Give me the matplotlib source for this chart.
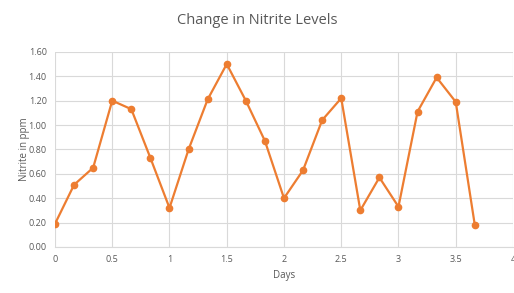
import matplotlib
matplotlib.use("Agg")
import matplotlib.pyplot as plt
import numpy as np

# readings every 4 hours
days = [0, 1/6, 2/6, 3/6, 4/6, 5/6, 1.0, 7/6, 8/6, 9/6, 10/6, 11/6, 2.0,
        13/6, 14/6, 15/6, 16/6, 17/6, 3.0, 19/6, 20/6, 21/6, 22/6]
nitrite = [0.19, 0.51, 0.65, 1.20, 1.13, 0.73, 0.32, 0.80, 1.21, 1.50, 1.20, 0.87, 0.40,
           0.63, 1.04, 1.22, 0.30, 0.57, 0.33, 1.11, 1.39, 1.19, 0.18]
x_ticks = [0, 0.5, 1, 1.5, 2, 2.5, 3, 3.5, 4]
x_labels = ["0", "0.5", "1", "1.5", "2", "2.5", "3", "3.5", "4"]
y_ticks = [0.0, 0.2, 0.4, 0.6, 0.8, 1.0, 1.2, 1.4, 1.6]

plt.rcParams['font.family'] = ['Open Sans', 'DejaVu Sans']
orange = '#ED7D31'
grey = '#595959'

fig = plt.figure(figsize=(5.14, 2.93), dpi=100)
ax = fig.add_axes([0.107, 0.157, 0.891, 0.666])

ax.plot(days, nitrite, color=orange, linewidth=1.6, marker='o', markersize=4.5, zorder=3)

ax.set_xlim(0, 4)
ax.set_ylim(0, 1.6)
ax.set_xticks(x_ticks)
ax.set_xticklabels(x_labels)
ax.set_yticks(y_ticks)
ax.set_yticklabels([f"{v:.2f}" for v in y_ticks])
ax.tick_params(axis='both', length=0, labelsize=6.5, colors=grey, pad=6)
ax.grid(True, color='#D9D9D9', linewidth=0.8)
ax.set_axisbelow(True)
for side in ['top', 'right', 'left']:
    ax.spines[side].set_visible(False)
ax.spines['bottom'].set_color('#D9D9D9')

# label sits over the tick labels, like in the original
ax.set_xlabel("Days", fontsize=7, color=grey, labelpad=4)
ax.set_ylabel("Nitrite in ppm", fontsize=7, color=grey)
ax.yaxis.set_label_coords(-0.055, 0.5)
fig.suptitle("Change in Nitrite Levels", fontsize=10.5, color=grey, y=0.955)

fig.savefig("out.png", dpi=100)
